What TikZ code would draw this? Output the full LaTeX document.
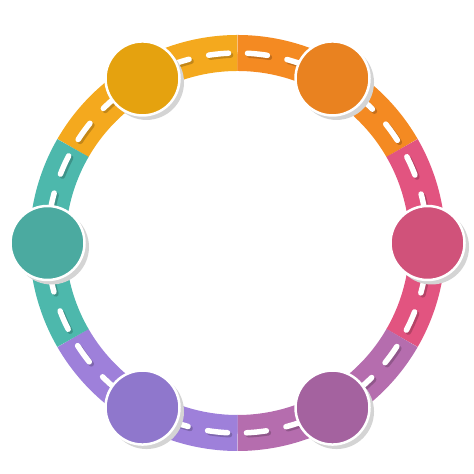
\documentclass[tikz,border=0pt]{standalone}
\definecolor{ambband}{HTML}{F4A91E}\definecolor{ambstop}{HTML}{E5A20F}
\definecolor{orgband}{HTML}{F48A22}\definecolor{orgstop}{HTML}{E98220}
\definecolor{pnkband}{HTML}{E25480}\definecolor{pnkstop}{HTML}{D0527A}
\definecolor{plmband}{HTML}{B56DAE}\definecolor{plmstop}{HTML}{A4629F}
\definecolor{lilband}{HTML}{9E80DA}\definecolor{lilstop}{HTML}{8F77CC}
\definecolor{tealband}{HTML}{4DB8AC}\definecolor{tealstop}{HTML}{4BAAA0}
\tikzset{
  road/.style={line width=0.72cm},
  lane/.style={white, line width=0.11cm, line cap=round, dash pattern=on 0.4cm off 0.4cm, dash phase=0.6cm},
  laneshade/.style={lane, draw=black, opacity=0.2},
  stopbox/.style={circle, minimum size=1.48cm, inner sep=0pt, draw=white, line width=0.05cm},
  stopshade/.style={circle, minimum size=1.5cm, inner sep=0pt, fill=black!17}
}
\begin{document}
\begin{tikzpicture}
\useasboundingbox (0,0) rectangle (9.48,9.48);
\begin{scope}[shift={(4.75,4.62)}]
% road
\draw[road, ambband] (150:3.8) arc (150:90:3.8);
\draw[road, orgband] (90:3.8) arc (90:30:3.8);
\draw[road, pnkband] (30:3.8) arc (30:-30:3.8);
\draw[road, plmband] (-30:3.8) arc (-30:-90:3.8);
\draw[road, lilband] (-90:3.8) arc (-90:-150:3.8);
\draw[road, tealband] (-150:3.8) arc (-150:-210:3.8);
% lane marks
\begin{scope}[shift={(0.04,-0.04)}]
\draw[laneshade] (150:3.8) arc (150:90:3.8);
\draw[laneshade] (90:3.8) arc (90:30:3.8);
\draw[laneshade] (30:3.8) arc (30:-30:3.8);
\draw[laneshade] (-30:3.8) arc (-30:-90:3.8);
\draw[laneshade] (-90:3.8) arc (-90:-150:3.8);
\draw[laneshade] (-150:3.8) arc (-150:-210:3.8);
\end{scope}
\draw[lane] (150:3.8) arc (150:90:3.8);
\draw[lane] (90:3.8) arc (90:30:3.8);
\draw[lane] (30:3.8) arc (30:-30:3.8);
\draw[lane] (-30:3.8) arc (-30:-90:3.8);
\draw[lane] (-90:3.8) arc (-90:-150:3.8);
\draw[lane] (-150:3.8) arc (-150:-210:3.8);
% stops
\node[stopshade] at ([shift={(0.08,-0.08)}]120:3.8) {};
\node[stopshade] at ([shift={(0.08,-0.08)}]60:3.8) {};
\node[stopshade] at ([shift={(0.08,-0.08)}]0:3.8) {};
\node[stopshade] at ([shift={(0.08,-0.08)}]-60:3.8) {};
\node[stopshade] at ([shift={(0.08,-0.08)}]-120:3.8) {};
\node[stopshade] at ([shift={(0.08,-0.08)}]180:3.8) {};
\node[stopbox, fill=ambstop] (amb) at (120:3.8) {};
\node[stopbox, fill=orgstop] (org) at (60:3.8) {};
\node[stopbox, fill=pnkstop] (pnk) at (0:3.8) {};
\node[stopbox, fill=plmstop] (plm) at (-60:3.8) {};
\node[stopbox, fill=lilstop] (lil) at (-120:3.8) {};
\node[stopbox, fill=tealstop] (teal) at (180:3.8) {};
\end{scope}
\end{tikzpicture}
\end{document}
